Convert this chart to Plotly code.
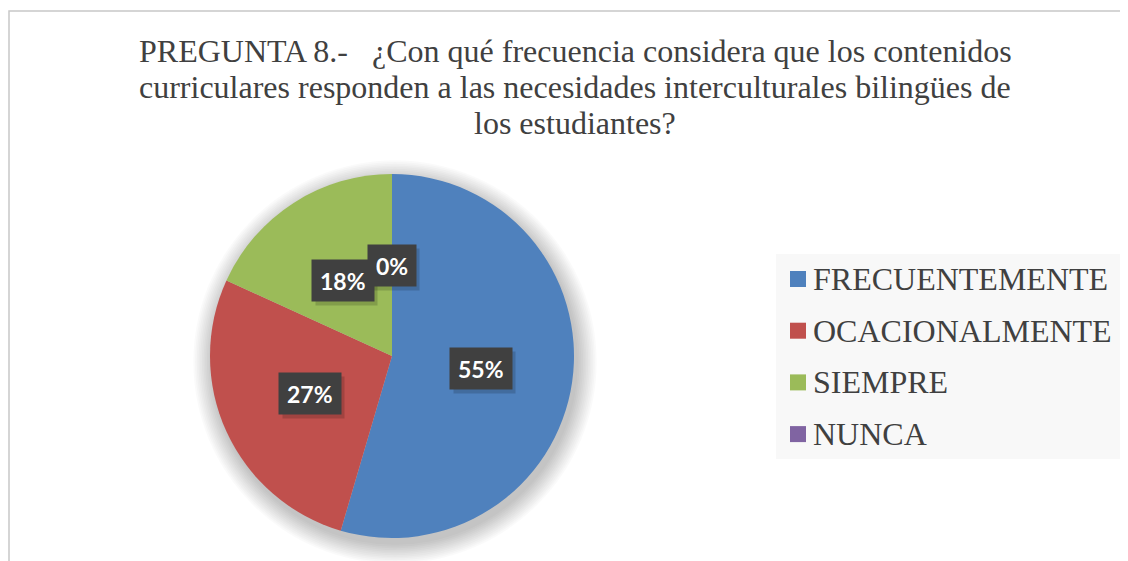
import math
import plotly.graph_objects as go

# ------- data
categorias = ["FRECUENTEMENTE", "OCACIONALMENTE", "SIEMPRE", "NUNCA"]
respuestas = [6, 3, 2, 0]
colores = ["#4f81bd", "#c0504d", "#9bbb59", "#8064a2"]
titulo_lineas = [
    "PREGUNTA 8.-   ¿Con qué frecuencia considera que los contenidos",
    "curriculares responden a las necesidades interculturales bilingües de",
    "los estudiantes?",
]

# ------- layout (pixels of the page)
W, H = 1128, 561
OFF = 8  # browser body margin
cx, cy, R = 392, 356, 182


def px_x(x):
    return (x - OFF) / W


def px_y(y):
    return 1 - (y - OFF) / H


fig = go.Figure()

# soft shadow behind the pie
for i in range(12):
    r = R + 1 + i * 1.7
    ox, oy = cx + 3, cy + 6
    fig.add_trace(go.Pie(
        values=[1], sort=False, textinfo="none", hoverinfo="skip",
        showlegend=False,
        marker=dict(colors=["rgba(0,0,0,0.02)"], line=dict(width=0)),
        domain=dict(x=[px_x(ox - r), px_x(ox + r)], y=[px_y(oy + r), px_y(oy - r)]),
    ))

fig.add_trace(go.Pie(
    labels=categorias, values=respuestas, sort=False,
    direction="clockwise", rotation=0,
    textinfo="none", showlegend=False,
    marker=dict(colors=colores, line=dict(width=0)),
    domain=dict(x=[px_x(cx - R), px_x(cx + R)], y=[px_y(cy + R), px_y(cy - R)]),
))

# data labels (dark boxes)
total = sum(respuestas)
acum = 0
rl = 0.495 * R
pos = []
for v in respuestas:
    th = 2 * math.pi * (acum + v / 2) / total
    acum += v
    pos.append((cx + rl * math.sin(th), cy - rl * math.cos(th),
                f"{round(100 * v / total)}%"))

etiqueta = dict(xref="paper", yref="paper", showarrow=False, height=25, borderpad=8,
                xanchor="center", yanchor="middle")
for x, y, txt in pos:
    # empty box behind the label, same size, used as drop shadow
    ancho = 13.3 * (len(txt) - 1) + 18.5
    fig.add_annotation(x=px_x(x + 3), y=px_y(y + 4), text="&nbsp;", width=ancho,
                       bgcolor="rgba(0,0,0,0.16)",
                       font=dict(family="Lato", size=23, color="rgba(0,0,0,0)"),
                       **etiqueta)
for x, y, txt in pos:
    fig.add_annotation(x=px_x(x), y=px_y(y), text=f"<b>{txt}</b>",
                       bgcolor="#404040",
                       font=dict(family="Lato", size=23, color="white"),
                       **etiqueta)

# outer frame + legend drawn by hand
shapes = [
    dict(type="rect", xref="paper", yref="paper", x0=px_x(9), x1=1.2,
         y0=-0.2, y1=px_y(11), line=dict(color="#c8c8c8", width=1.5),
         fillcolor="rgba(0,0,0,0)", layer="below"),
    dict(type="rect", xref="paper", yref="paper", x0=px_x(776), x1=px_x(1123),
         y0=px_y(459), y1=px_y(254), line=dict(width=0), fillcolor="#f8f8f8",
         layer="below"),
]
for i, (nombre, col) in enumerate(zip(categorias, colores)):
    yc = 279 + i * 51.7
    shapes.append(dict(type="rect", xref="paper", yref="paper",
                       x0=px_x(790), x1=px_x(806), y0=px_y(yc + 8), y1=px_y(yc - 8),
                       line=dict(width=0), fillcolor=col))
    fig.add_annotation(x=px_x(811), y=px_y(yc), xref="paper", yref="paper",
                       text=nombre, showarrow=False, xanchor="left", yanchor="middle",
                       font=dict(family="Liberation Serif", size=32, color="#404040"))

# title, one line each to keep Word-like line spacing
for i, linea in enumerate(titulo_lineas):
    fig.add_annotation(x=px_x(575), y=px_y(51 + i * 36), xref="paper", yref="paper",
                       text=linea, showarrow=False, xanchor="center", yanchor="middle",
                       font=dict(family="Liberation Serif", size=32, color="#404040"))

fig.update_layout(
    width=W, height=H,
    margin=dict(l=0, r=0, t=0, b=0),
    paper_bgcolor="white",
    plot_bgcolor="white",
    shapes=shapes,
)

fig.write_html("out.html")
